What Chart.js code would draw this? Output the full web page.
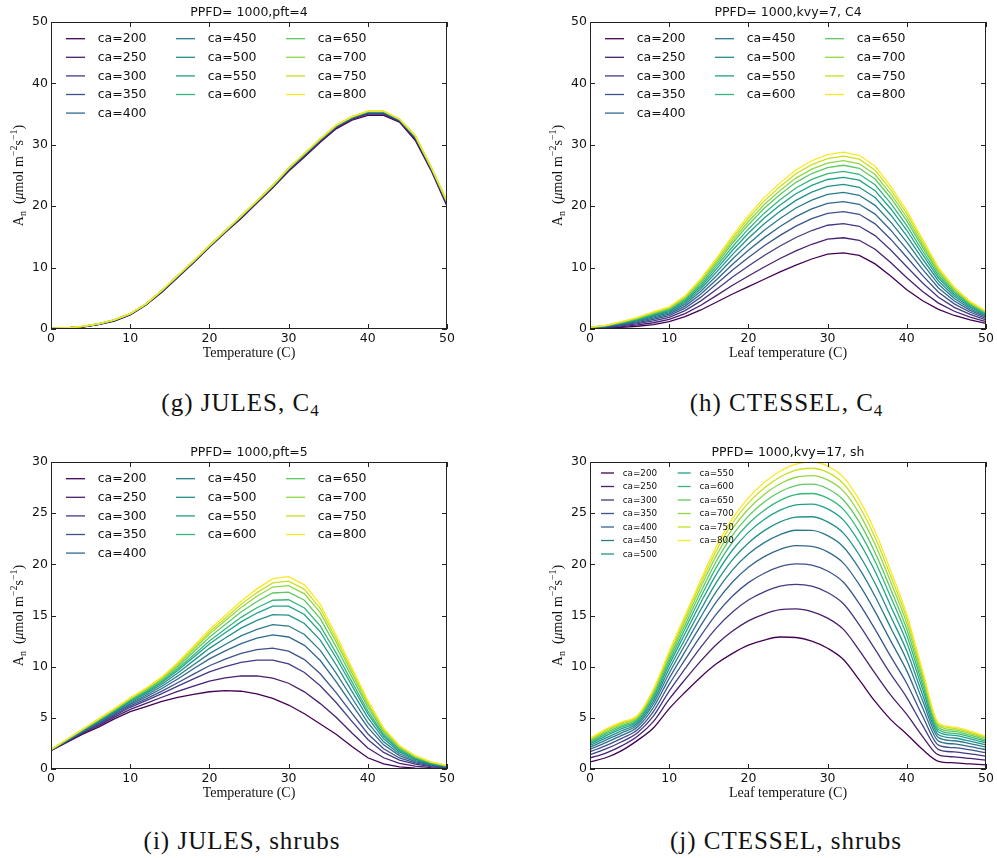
<!DOCTYPE html>
<html>
<head>
<meta charset="utf-8">
<script src="https://cdn.jsdelivr.net/npm/chart.js@4.4.0/dist/chart.umd.min.js"></script>
<style>
  body { margin: 0; background: #fff; width: 997px; height: 858px; position: relative; overflow: hidden; }
  canvas.panel { position: absolute; }
  .cap { position: absolute; font-family: "Liberation Serif", serif; font-size: 25px; letter-spacing: 1px;
         color: #111; transform: translate(-50%, -50%); white-space: nowrap; line-height: 1; }
  .cap sub { font-size: 17px; letter-spacing: 0; vertical-align: -5px; line-height: 0; }
</style>
</head>
<body>
<canvas id="g" class="panel" style="left:0;top:0" width="458" height="380"></canvas>
<canvas id="h" class="panel" style="left:539px;top:0" width="458" height="380"></canvas>
<canvas id="i" class="panel" style="left:0;top:440px" width="458" height="380"></canvas>
<canvas id="j" class="panel" style="left:539px;top:440px" width="458" height="380"></canvas>

<div class="cap" style="left:240px;top:402px">(g) JULES, C<sub>4</sub></div>
<div class="cap" style="left:786px;top:402px">(h) CTESSEL, C<sub>4</sub></div>
<div class="cap" style="left:242px;top:840px">(i) JULES, shrubs</div>
<div class="cap" style="left:786px;top:840px">(j) CTESSEL, shrubs</div>

<script>
// leaf temperature (C), one point every 2 degrees
const temps = [0,2,4,6,8,10,12,14,16,18,20,22,24,26,28,30,32,34,36,38,40,42,44,46,48,50];
const caLevels = [200,250,300,350,400,450,500,550,600,650,700,750,800];
const caColors = ['#440154','#481f70','#443983','#3b528b','#31688e','#297b8e','#21918c',
                  '#1fa188','#35b779','#5ec962','#90d743','#c8e020','#fde725'];
const xTicks = [0,10,20,30,40,50];
const yTicksC4 = [0,10,20,30,40,50];
const yTicksShrub = [0,5,10,15,20,25,30];

// (g) JULES, C4  - one row per ca level
const julesC4 = [
  [0.02,0.1,0.3,0.7,1.3,2.3,3.9,6.0,8.4,10.8,13.3,15.7,18.0,20.5,23.0,25.7,28.0,30.4,32.6,34.0,34.8,34.8,33.7,30.7,25.8,20.0],
  [0.04,0.13,0.34,0.74,1.35,2.35,3.95,6.08,8.48,10.88,13.38,15.78,18.1,20.6,23.1,25.83,28.15,30.55,32.75,34.15,34.98,34.98,33.83,30.9,25.95,20.2],
  [0.05,0.14,0.36,0.76,1.38,2.38,3.98,6.13,8.53,10.93,13.43,15.83,18.17,20.67,23.17,25.91,28.25,30.65,32.85,34.25,35.09,35.09,33.91,31.04,26.05,20.34],
  [0.06,0.16,0.38,0.78,1.41,2.41,4.01,6.17,8.57,10.97,13.47,15.87,18.22,20.72,23.22,25.98,28.33,30.73,32.93,34.33,35.19,35.19,33.98,31.14,26.13,20.44],
  [0.07,0.17,0.4,0.8,1.43,2.43,4.03,6.2,8.6,11.0,13.5,15.9,18.26,20.76,23.26,26.03,28.39,30.79,32.99,34.39,35.26,35.26,34.03,31.22,26.19,20.52],
  [0.08,0.17,0.41,0.81,1.44,2.44,4.04,6.22,8.62,11.02,13.52,15.92,18.29,20.79,23.29,26.06,28.43,30.83,33.03,34.43,35.3,35.3,34.06,31.28,26.23,20.58],
  [0.08,0.18,0.42,0.82,1.46,2.46,4.06,6.23,8.63,11.03,13.53,15.93,18.31,20.81,23.31,26.09,28.47,30.87,33.07,34.47,35.35,35.35,34.09,31.32,26.27,20.62],
  [0.09,0.18,0.42,0.82,1.47,2.47,4.07,6.25,8.65,11.05,13.55,15.95,18.33,20.83,23.33,26.12,28.5,30.9,33.1,34.5,35.38,35.38,34.12,31.36,26.3,20.66],
  [0.09,0.19,0.43,0.83,1.47,2.47,4.07,6.26,8.66,11.06,13.56,15.96,18.35,20.85,23.35,26.14,28.52,30.92,33.12,34.52,35.41,35.41,34.14,31.4,26.32,20.7],
  [0.09,0.19,0.44,0.84,1.48,2.48,4.08,6.27,8.67,11.07,13.57,15.97,18.36,20.86,23.36,26.16,28.55,30.95,33.15,34.55,35.44,35.44,34.16,31.43,26.35,20.73],
  [0.1,0.19,0.44,0.84,1.49,2.49,4.09,6.28,8.68,11.08,13.58,15.98,18.38,20.88,23.38,26.17,28.56,30.96,33.16,34.56,35.46,35.46,34.17,31.45,26.36,20.75],
  [0.1,0.2,0.45,0.85,1.49,2.49,4.09,6.29,8.69,11.09,13.59,15.99,18.39,20.89,23.39,26.19,28.58,30.98,33.18,34.58,35.48,35.48,34.19,31.48,26.38,20.78],
  [0.1,0.2,0.45,0.85,1.5,2.5,4.1,6.3,8.7,11.1,13.6,16.0,18.4,20.9,23.4,26.2,28.6,31.0,33.2,34.6,35.5,35.5,34.2,31.5,26.4,20.8]
];

// (h) CTESSEL, C4
const ctesselC4 = [
  [0.1,0.15,0.25,0.45,0.7,1.2,2.0,3.1,4.4,5.7,6.9,8.1,9.3,10.4,11.4,12.2,12.4,12.0,10.6,8.6,6.4,4.6,3.2,2.2,1.5,0.9],
  [0.13,0.22,0.39,0.67,1.02,1.56,2.51,3.87,5.48,7.13,8.64,10.1,11.48,12.73,13.8,14.63,14.86,14.45,12.99,10.79,8.34,6.1,4.22,2.89,1.95,1.2],
  [0.16,0.28,0.53,0.87,1.31,1.9,2.99,4.58,6.49,8.46,10.26,11.96,13.51,14.9,16.04,16.9,17.16,16.73,15.21,12.83,10.14,7.5,5.17,3.53,2.37,1.48],
  [0.18,0.33,0.64,1.04,1.56,2.18,3.39,5.19,7.35,9.6,11.66,13.55,15.25,16.76,17.96,18.84,19.12,18.68,17.12,14.59,11.69,8.7,5.99,4.09,2.73,1.72],
  [0.2,0.38,0.73,1.19,1.77,2.42,3.73,5.7,8.07,10.55,12.82,14.88,16.7,18.31,19.56,20.46,20.76,20.31,18.71,16.05,12.98,9.7,6.67,4.55,3.03,1.92],
  [0.22,0.42,0.82,1.32,1.96,2.64,4.04,6.16,8.72,11.4,13.86,16.08,18.0,19.7,21.0,21.92,22.24,21.78,20.14,17.36,14.14,10.6,7.28,4.96,3.3,2.1],
  [0.24,0.46,0.9,1.44,2.13,2.83,4.31,6.57,9.3,12.16,14.79,17.14,19.16,20.94,22.28,23.22,23.55,23.08,21.41,18.53,15.17,11.4,7.82,5.33,3.54,2.26],
  [0.25,0.49,0.96,1.54,2.28,3.0,4.55,6.93,9.8,12.83,15.6,18.08,20.18,22.03,23.4,24.35,24.7,24.23,22.53,19.55,16.08,12.1,8.3,5.65,3.75,2.4],
  [0.26,0.51,1.02,1.62,2.4,3.14,4.75,7.23,10.23,13.4,16.3,18.87,21.05,22.96,24.36,25.32,25.68,25.2,23.48,20.43,16.85,12.7,8.71,5.93,3.93,2.52],
  [0.27,0.54,1.08,1.71,2.53,3.29,4.96,7.54,10.66,13.97,16.99,19.67,21.92,23.89,25.32,26.29,26.67,26.18,24.43,21.3,17.62,13.3,9.12,6.2,4.11,2.64],
  [0.28,0.56,1.12,1.78,2.62,3.4,5.11,7.77,10.99,14.39,17.51,20.27,22.57,24.58,26.04,27.02,27.41,26.91,25.15,21.96,18.2,13.75,9.42,6.41,4.25,2.73],
  [0.29,0.58,1.16,1.84,2.72,3.5,5.26,8.0,11.31,14.82,18.04,20.87,23.22,25.28,26.76,27.75,28.14,27.65,25.86,22.62,18.78,14.2,9.73,6.62,4.38,2.82],
  [0.3,0.6,1.2,1.9,2.8,3.6,5.4,8.2,11.6,15.2,18.5,21.4,23.8,25.9,27.4,28.4,28.8,28.3,26.5,23.2,19.3,14.6,10.0,6.8,4.5,2.9]
];

// (i) JULES, shrubs
const julesShrubs = [
  [1.8,2.6,3.4,4.1,4.9,5.6,6.1,6.6,7.0,7.3,7.55,7.65,7.6,7.35,6.9,6.25,5.4,4.4,3.4,2.2,1.1,0.5,0.2,0.08,0.03,0.01],
  [1.82,2.65,3.49,4.24,5.07,5.83,6.41,7.01,7.58,8.1,8.58,8.9,9.1,9.09,8.89,8.38,7.54,6.39,5.05,3.51,2.05,1.1,0.56,0.29,0.14,0.07],
  [1.83,2.7,3.56,4.36,5.22,6.03,6.68,7.37,8.09,8.8,9.49,10.0,10.42,10.63,10.64,10.27,9.43,8.14,6.5,4.66,2.89,1.62,0.87,0.47,0.24,0.12],
  [1.84,2.73,3.61,4.44,5.32,6.17,6.86,7.61,8.43,9.27,10.09,10.74,11.3,11.66,11.81,11.52,10.69,9.31,7.47,5.43,3.45,1.97,1.08,0.59,0.31,0.15],
  [1.85,2.76,3.67,4.52,5.43,6.32,7.05,7.87,8.8,9.79,10.76,11.55,12.26,12.78,13.1,12.9,12.08,10.6,8.54,6.28,4.07,2.36,1.31,0.73,0.39,0.19],
  [1.86,2.78,3.71,4.59,5.52,6.43,7.21,8.08,9.09,10.19,11.27,12.17,13.01,13.65,14.1,13.97,13.15,11.6,9.37,6.94,4.54,2.65,1.49,0.83,0.44,0.22],
  [1.87,2.81,3.75,4.66,5.6,6.55,7.36,8.28,9.38,10.59,11.79,12.8,13.76,14.53,15.09,15.04,14.22,12.59,10.19,7.59,5.02,2.95,1.67,0.93,0.5,0.25],
  [1.88,2.83,3.79,4.72,5.67,6.64,7.49,8.45,9.62,10.92,12.21,13.31,14.38,15.24,15.91,15.91,15.1,13.41,10.87,8.13,5.41,3.2,1.82,1.02,0.55,0.27],
  [1.88,2.85,3.81,4.76,5.72,6.71,7.58,8.57,9.79,11.15,12.51,13.68,14.82,15.76,16.49,16.54,15.73,13.99,11.35,8.51,5.69,3.37,1.92,1.08,0.58,0.29],
  [1.89,2.86,3.84,4.8,5.78,6.79,7.68,8.71,9.99,11.44,12.87,14.12,15.34,16.37,17.2,17.29,16.49,14.7,11.94,8.98,6.03,3.58,2.05,1.15,0.62,0.31],
  [1.89,2.88,3.87,4.84,5.83,6.86,7.77,8.83,10.16,11.67,13.18,14.49,15.78,16.88,17.78,17.92,17.12,15.28,12.42,9.36,6.31,3.76,2.15,1.21,0.65,0.33],
  [1.9,2.89,3.88,4.87,5.87,6.9,7.84,8.92,10.28,11.84,13.39,14.74,16.09,17.24,18.19,18.36,17.56,15.69,12.76,9.63,6.5,3.88,2.23,1.26,0.68,0.34],
  [1.9,2.9,3.9,4.9,5.9,6.95,7.9,9.0,10.4,12.0,13.6,15.0,16.4,17.6,18.6,18.8,18.0,16.1,13.1,9.9,6.7,4.0,2.3,1.3,0.7,0.35]
];

// (j) CTESSEL, shrubs
const ctesselShrubs = [
  [0.7,1.1,1.8,2.8,4.0,5.9,7.5,9.0,10.3,11.3,12.1,12.6,12.9,12.85,12.5,11.8,10.7,8.7,6.6,4.8,3.4,1.9,0.75,0.6,0.5,0.4],
  [1.08,1.56,2.26,3.2,4.63,6.82,8.74,10.57,12.2,13.48,14.48,15.14,15.57,15.65,15.39,14.74,13.64,11.6,9.34,7.19,5.33,3.17,1.37,1.18,1.03,0.86],
  [1.4,1.96,2.66,3.55,5.16,7.61,9.8,11.91,13.82,15.34,16.51,17.31,17.86,18.04,17.86,17.25,16.15,14.09,11.68,9.24,6.98,4.26,1.9,1.67,1.48,1.26],
  [1.68,2.29,2.99,3.84,5.61,8.27,10.68,13.03,15.18,16.9,18.21,19.13,19.77,20.04,19.92,19.35,18.25,16.16,13.64,10.95,8.36,5.16,2.34,2.08,1.86,1.59],
  [1.92,2.58,3.28,4.1,6.01,8.86,11.47,14.03,16.38,18.28,19.72,20.75,21.47,21.82,21.76,21.22,20.12,18.01,15.38,12.47,9.59,5.97,2.73,2.45,2.19,1.88],
  [2.12,2.83,3.53,4.31,6.35,9.36,12.14,14.87,17.41,19.46,21.0,22.12,22.91,23.33,23.32,22.8,21.7,19.58,16.86,13.76,10.63,6.66,3.07,2.76,2.48,2.13],
  [2.3,3.04,3.74,4.5,6.64,9.79,12.71,15.59,18.28,20.46,22.09,23.29,24.14,24.61,24.65,24.15,23.05,20.91,18.12,14.86,11.52,7.24,3.35,3.03,2.72,2.34],
  [2.46,3.24,3.94,4.67,6.91,10.18,13.24,16.27,19.1,21.4,23.12,24.38,25.29,25.82,25.89,25.42,24.32,22.16,19.3,15.89,12.35,7.79,3.62,3.28,2.95,2.54],
  [2.6,3.41,4.11,4.82,7.13,10.51,13.68,16.83,19.78,22.18,23.97,25.29,26.25,26.82,26.92,26.47,25.37,23.2,20.28,16.75,13.04,8.24,3.84,3.48,3.14,2.71],
  [2.71,3.55,4.25,4.95,7.33,10.81,14.07,17.32,20.37,22.86,24.71,26.09,27.09,27.7,27.83,27.39,26.29,24.12,21.14,17.5,13.65,8.65,4.04,3.67,3.3,2.85],
  [2.83,3.69,4.39,5.06,7.51,11.07,14.43,17.78,20.93,23.5,25.41,26.83,27.87,28.51,28.67,28.25,27.15,24.96,21.94,18.2,14.21,9.01,4.22,3.83,3.46,2.99],
  [2.92,3.8,4.5,5.16,7.67,11.3,14.74,18.17,21.4,24.04,26.0,27.46,28.53,29.21,29.39,28.98,27.88,25.68,22.62,18.79,14.69,9.33,4.37,3.98,3.59,3.1],
  [3.0,3.9,4.6,5.25,7.8,11.5,15.0,18.5,21.8,24.5,26.5,28.0,29.1,29.8,30.0,29.6,28.5,26.3,23.2,19.3,15.1,9.6,4.5,4.1,3.7,3.2]
];

const sansFont = '"DejaVu Sans", sans-serif';
const serifFont = '"Liberation Serif", serif';
const bigLegend = { ncol: 3, dx: 15, dy: 16.7, rowH: 18.6, colW: 110, lineLen: 19, textDx: 31.7, size: 12.5 };
const smallLegend = { ncol: 2, dx: 11, dy: 11, rowH: 13.5, colW: 76.7, lineLen: 13, textDx: 21.7, size: 8.8 };

// frame with inward ticks, legend in columns, titles
const framePlugin = {
  id: 'frame',
  afterDatasetsDraw(chart, args, opts) {
    const { ctx, chartArea: a, scales: { x, y } } = chart;
    ctx.save();
    ctx.strokeStyle = '#222';
    ctx.lineWidth = 1;
    ctx.strokeRect(a.left + 0.5, a.top + 0.5, a.right - a.left - 1, a.bottom - a.top - 1);
    ctx.beginPath();
    x.ticks.forEach(t => {
      const px = Math.round(x.getPixelForValue(t.value)) + 0.5;
      ctx.moveTo(px, a.bottom); ctx.lineTo(px, a.bottom - 5);
      ctx.moveTo(px, a.top); ctx.lineTo(px, a.top + 5);
    });
    y.ticks.forEach(t => {
      const py = Math.round(y.getPixelForValue(t.value)) + 0.5;
      ctx.moveTo(a.left, py); ctx.lineTo(a.left + 5, py);
      ctx.moveTo(a.right, py); ctx.lineTo(a.right - 5, py);
    });
    ctx.stroke();

    // legend, filled column by column like matplotlib
    const L = opts.legend;
    const ds = chart.data.datasets;
    let k = 0;
    ctx.textBaseline = 'middle';
    ctx.textAlign = 'left';
    ctx.font = L.size + 'px ' + sansFont;
    for (let c = 0; c < L.ncol; c++) {
      const cnt = Math.floor(ds.length / L.ncol) + (c < ds.length % L.ncol ? 1 : 0);
      for (let r = 0; r < cnt; r++, k++) {
        const lx = a.left + L.dx + c * L.colW;
        const ly = a.top + L.dy + r * L.rowH;
        ctx.strokeStyle = ds[k].borderColor;
        ctx.lineWidth = 1.3;
        ctx.beginPath(); ctx.moveTo(lx, ly); ctx.lineTo(lx + L.lineLen, ly); ctx.stroke();
        ctx.fillStyle = '#111';
        ctx.fillText(ds[k].label, lx + L.textDx, ly + 0.5);
      }
    }

    // title
    const cx = (a.left + a.right) / 2;
    ctx.fillStyle = '#111';
    ctx.textAlign = 'center';
    ctx.font = '12.5px ' + sansFont;
    ctx.fillText(opts.title, cx, a.top - 9);

    // x label
    ctx.font = '14px ' + serifFont;
    ctx.fillText(opts.xTitle, cx, a.bottom + 24);

    // y label with sub/superscripts
    const parts = [
      { t: 'A', f: '14px ' + serifFont, dy: 0 },
      { t: 'n', f: '10px ' + serifFont, dy: 3 },
      { t: '  (', f: '14px ' + serifFont, dy: 0 },
      { t: 'μ', f: 'italic 14px ' + serifFont, dy: 0 },
      { t: 'mol m', f: '14px ' + serifFont, dy: 0 },
      { t: '−2', f: '10px ' + serifFont, dy: -6 },
      { t: 's', f: '14px ' + serifFont, dy: 0 },
      { t: '−1', f: '10px ' + serifFont, dy: -6 },
      { t: ')', f: '14px ' + serifFont, dy: 0 }
    ];
    let total = 0;
    parts.forEach(p => { ctx.font = p.f; p.w = ctx.measureText(p.t).width; total += p.w; });
    ctx.translate(a.left - 33, (a.top + a.bottom) / 2);
    ctx.rotate(-Math.PI / 2);
    ctx.textAlign = 'left';
    ctx.textBaseline = 'alphabetic';
    let px = -total / 2;
    parts.forEach(p => { ctx.font = p.f; ctx.fillText(p.t, px, 4.5 + p.dy); px += p.w; });
    ctx.restore();
  }
};

function makeChart(id, series, yMax, yTicks, title, xTitle, legend, smooth) {
  return new Chart(document.getElementById(id), {
    type: 'line',
    data: {
      datasets: series.map((ys, i) => ({
        label: 'ca=' + caLevels[i],
        data: temps.map((t, k) => ({ x: t, y: ys[k] })),
        borderColor: caColors[i],
        borderWidth: 1.3,
        pointRadius: 0,
        fill: false,
        tension: 0,
        cubicInterpolationMode: smooth ? 'monotone' : 'default',
        order: series.length - i
      }))
    },
    options: {
      responsive: false,
      animation: false,
      devicePixelRatio: 1,
      layout: { padding: { left: 21, top: 22, right: 11, bottom: 21 } },
      scales: {
        x: {
          type: 'linear', min: 0, max: 50,
          afterBuildTicks: s => { s.ticks = xTicks.map(v => ({ value: v })); },
          afterFit: s => { s.height = 30; },
          grid: { display: false, drawTicks: false },
          border: { display: false },
          ticks: { autoSkip: false, maxRotation: 0, padding: 2, color: '#111', font: { family: sansFont, size: 12.5 } }
        },
        y: {
          type: 'linear', min: 0, max: yMax,
          afterBuildTicks: s => { s.ticks = yTicks.map(v => ({ value: v })); },
          afterFit: s => { s.width = 30; },
          grid: { display: false, drawTicks: false },
          border: { display: false },
          ticks: { autoSkip: false, padding: 3, color: '#111', font: { family: sansFont, size: 12.5 } }
        }
      },
      plugins: {
        legend: { display: false },
        tooltip: { enabled: false },
        frame: { title, xTitle, legend }
      }
    },
    plugins: [framePlugin]
  });
}

makeChart('g', julesC4, 50, yTicksC4, 'PPFD= 1000,pft=4', 'Temperature (C)', bigLegend, false);
makeChart('h', ctesselC4, 50, yTicksC4, 'PPFD= 1000,kvy=7, C4', 'Leaf temperature (C)', bigLegend, false);
makeChart('i', julesShrubs, 30, yTicksShrub, 'PPFD= 1000,pft=5', 'Temperature (C)', bigLegend, false);
makeChart('j', ctesselShrubs, 30, yTicksShrub, 'PPFD= 1000,kvy=17, sh', 'Leaf temperature (C)', smallLegend, true);
</script>
</body>
</html>
